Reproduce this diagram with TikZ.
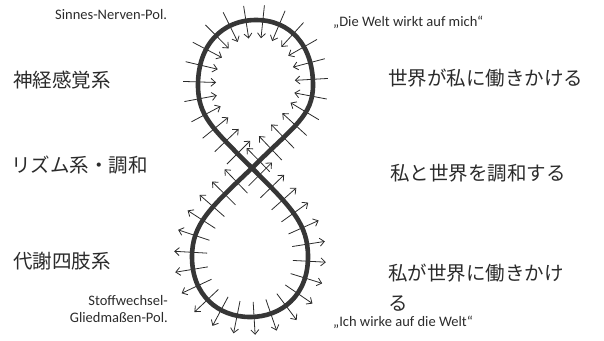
\documentclass[tikz,border=0pt]{standalone}
\usepackage{fontspec}
\setmainfont{Carlito}
\newfontfamily\cjk{Noto Sans CJK JP}
\usetikzlibrary{decorations.markings,arrows.meta}
\definecolor{ink}{HTML}{2B2B2B}
\tikzset{
  loopline/.style={line width=4.6pt, draw=ink!95},
  jp/.style={font=\cjk\fontsize{19.5pt}{30pt}\selectfont, text=ink, inner sep=0pt, anchor=west},
  de/.style={font=\fontsize{14.5pt}{17pt}\selectfont, text=ink, inner sep=0pt},
  flux/.style={decoration={markings,
      mark=between positions 0.025 and 0.98 step 0.042 with
      {\draw[ink, line width=0.8pt, -{Straight Barb[length=4.5pt,width=8pt]}] (0,-15pt) -- (0,18pt);}},
      postaction={decorate}}
}
\begin{document}
\begin{tikzpicture}[x=1pt,y=-1pt]
\useasboundingbox (0,0) rectangle (604,340);
\coordinate (C) at (252,168);
% top loop
\path[flux] (C) .. controls (294,126) and (313,116) .. (313,85)
  .. controls (313,45) and (290,20) .. (256,20)
  .. controls (222,20) and (198,45) .. (198,85)
  .. controls (198,116) and (212,128) .. (C);
% bottom loop
\path[flux] (C) .. controls (292,208) and (308,224) .. (308,257)
  .. controls (308,295) and (282,317) .. (250,317)
  .. controls (218,317) and (192,295) .. (192,257)
  .. controls (192,224) and (210,208) .. (C);
\draw[loopline] (C) .. controls (294,126) and (313,116) .. (313,85)
  .. controls (313,45) and (290,20) .. (256,20)
  .. controls (222,20) and (198,45) .. (198,85)
  .. controls (198,116) and (212,128) .. (C)
  .. controls (292,208) and (308,224) .. (308,257)
  .. controls (308,295) and (282,317) .. (250,317)
  .. controls (218,317) and (192,295) .. (192,257)
  .. controls (192,224) and (210,208) .. (C);
% texts
\node[de, anchor=west] (snp) at (55,15) {Sinnes-Nerven-Pol.};
\node[de, anchor=west] (dww) at (333,22) {„Die Welt wirkt auf mich“};
\node[jp] (nks) at (13,80) {神経感覚系};
\node[jp] (swh) at (388,78) {世界が私に働きかける};
\node[jp] (rzm) at (11,165) {リズム系・調和};
\node[jp] (wtc) at (390,173) {私と世界を調和する};
\node[jp] (tsk) at (13,261) {代謝四肢系};
\node[jp, anchor=north west, align=left] (wsh) at (388,264) {私が世界に働きかけ\\る};
\node[de, anchor=east, align=right] (sgp) at (168,309) {Stoffwechsel-\\Gliedmaßen-Pol.};
\node[de, anchor=west] (iwa) at (333,322) {„Ich wirke auf die Welt“};
\end{tikzpicture}
\end{document}
